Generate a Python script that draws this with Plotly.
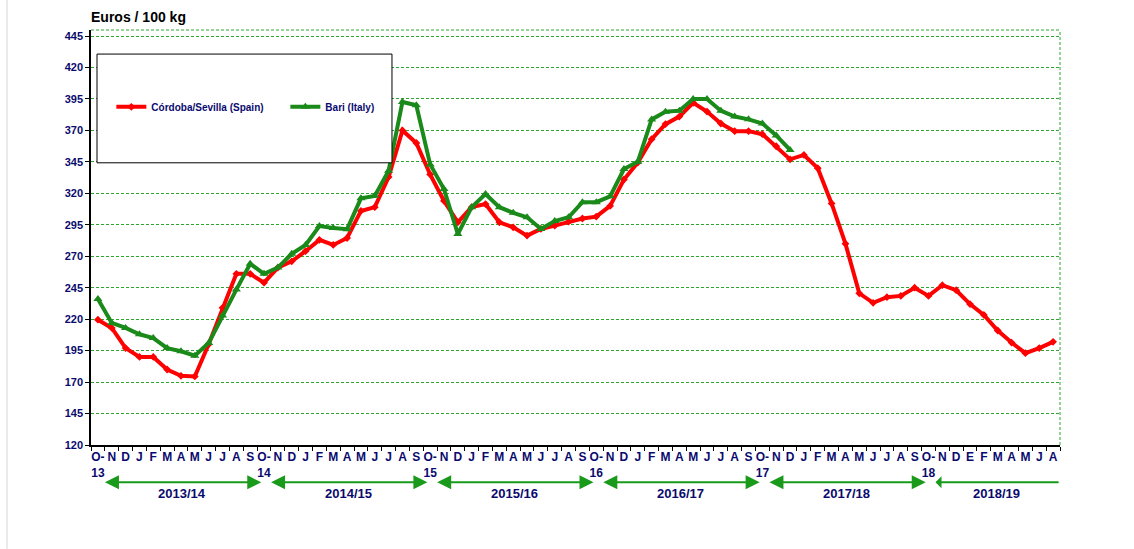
import plotly.graph_objects as go

# ---------------- data ----------------
season_months = ["N", "D", "J", "F", "M", "A", "M", "J", "J", "A", "S"]
month_labels = []
for yy in ["13", "14", "15", "16", "17"]:
    month_labels += ["O-<br>" + yy] + season_months
month_labels += ["O-<br>18", "N", "D", "E", "F", "M", "A", "M", "J", "A"]

seasons = ["2013/14", "2014/15", "2015/16", "2016/17", "2017/18", "2018/19"]

cordoba = [219.6, 213, 197, 190, 190, 180, 175, 174.5, 200, 229,
           256, 256, 249, 261, 266, 274, 283, 279, 284.5, 306,
           309, 333, 370, 360, 335, 314, 297, 309, 311.5, 297,
           293, 286.4, 291.7, 294.3, 297.5, 300, 301.5, 310, 331, 344.5,
           363, 375, 381, 392, 385, 375.5, 369.4, 369.4, 367, 357.4,
           347, 350.5, 340, 312, 280, 240.5, 233, 237.5, 238.5, 245,
           238.5, 247, 243, 232, 223.4, 211, 201.4, 193, 197, 202]

bari = [236, 217, 213, 208, 205, 197, 194.5, 191, 201, 223,
        243.5, 264, 256, 261, 272, 279, 294, 292.5, 291.5, 316,
        318, 338, 392.6, 390, 343, 323.4, 287.7, 309, 319.5, 309,
        304.5, 301, 291.7, 298, 301, 313, 313, 317.6, 339.3, 345,
        378.7, 384.8, 385.7, 395, 395, 385.7, 381, 378.8, 375.5, 366,
        354.5] + [None] * 19

y_ticks = list(range(120, 446, 25))

x_idx = list(range(len(month_labels)))

NAVY = "#0a0a6e"
GRID = "#2ea52e"
FONT = "Liberation Sans"

fig = go.Figure()
fig.add_trace(go.Scatter(
    x=x_idx, y=cordoba, mode="lines+markers", name="Córdoba/Sevilla (Spain)",
    line=dict(color="#ff0000", width=4),
    marker=dict(symbol="diamond", size=6, color="#ff0000"),
))
fig.add_trace(go.Scatter(
    x=x_idx, y=bari, mode="lines+markers", name="Bari (Italy)",
    line=dict(color="#1a8a1a", width=4),
    marker=dict(symbol="triangle-up", size=8, color="#1a8a1a"),
))

fig.update_layout(
    width=1134, height=549,
    margin=dict(l=91, r=74, t=30, b=103.5, autoexpand=False),
    paper_bgcolor="white", plot_bgcolor="white",
    showlegend=True,
    legend=dict(
        orientation="h", x=0.021, y=0.815, xanchor="left", yanchor="middle",
        bgcolor="rgba(0,0,0,0)", borderwidth=0,
        font=dict(family=FONT, size=10, color=NAVY, weight="bold"),
        entrywidth=129, itemwidth=30,
    ),
    xaxis=dict(
        range=[-0.5, len(month_labels) - 0.5],
        tickmode="array", tickvals=x_idx, ticktext=month_labels,
        ticks="", showgrid=False, zeroline=False,
        showline=True, linecolor="black", linewidth=1.5,
        tickfont=dict(family=FONT, size=12, color=NAVY, weight="bold"),
        minor=dict(tickvals=[i - 0.5 for i in range(len(month_labels) + 1)],
                   ticks="outside", ticklen=4, tickcolor="black", showgrid=False),
    ),
    yaxis=dict(
        range=[120, 449.8],
        tickmode="array", tickvals=y_ticks,
        ticks="outside", ticklen=4, tickcolor="black",
        showgrid=True, gridcolor=GRID, griddash="3px,2px", gridwidth=1,
        zeroline=False, showline=True, linecolor="black", linewidth=1.5,
        tickfont=dict(family=FONT, size=11, color=NAVY, weight="bold"),
    ),
)

shapes = [
    # plot-area top & right dashed borders
    dict(type="line", xref="paper", yref="paper", x0=0, x1=1, y0=1, y1=1,
         line=dict(color=GRID, width=1, dash="3px,2px")),
    dict(type="line", xref="paper", yref="paper", x0=1, x1=1, y0=0, y1=1,
         line=dict(color=GRID, width=1, dash="3px,2px")),
    # legend box
    dict(type="rect", xref="paper", yref="paper", x0=0.0062, x1=0.3106, y0=0.680, y1=0.942,
         fillcolor="white", line=dict(color="black", width=1), layer="above"),
    # light frame line on the left of the image
    dict(type="line", xref="paper", yref="paper", x0=-0.0867, x1=-0.0867, y0=-0.25, y1=1.08,
         line=dict(color="#d4d4d4", width=1)),
]
fig.update_layout(shapes=shapes)

annotations = [
    dict(text="Euros / 100 kg", xref="paper", yref="paper", x=-0.002, y=1.031,
         xanchor="left", yanchor="middle", showarrow=False,
         font=dict(family=FONT, size=14, color="black", weight="bold")),
]
for k, s in enumerate(seasons):
    start = 12 * k + 0.4
    end = min(12 * k + 11.8, len(month_labels) - 0.6)
    last = (k == len(seasons) - 1)
    annotations.append(dict(
        text="", x=end, y=-0.09, xref="x", yref="paper",
        ax=start, ay=0, axref="x", ayref="pixel",
        showarrow=True, arrowside="start" if last else "end+start",
        arrowhead=2, arrowsize=1.4, arrowwidth=2, arrowcolor="#1a9a1a",
        standoff=0, startstandoff=0,
    ))
    annotations.append(dict(
        text=s, x=(start + end) / 2, y=-0.116, xref="x", yref="paper",
        xanchor="center", yanchor="middle", showarrow=False,
        font=dict(family=FONT, size=13, color=NAVY, weight="bold"),
    ))
fig.update_layout(annotations=annotations)

fig.write_html("out.html", post_script="document.body.style.margin='0';",
               config={"displayModeBar": False})
